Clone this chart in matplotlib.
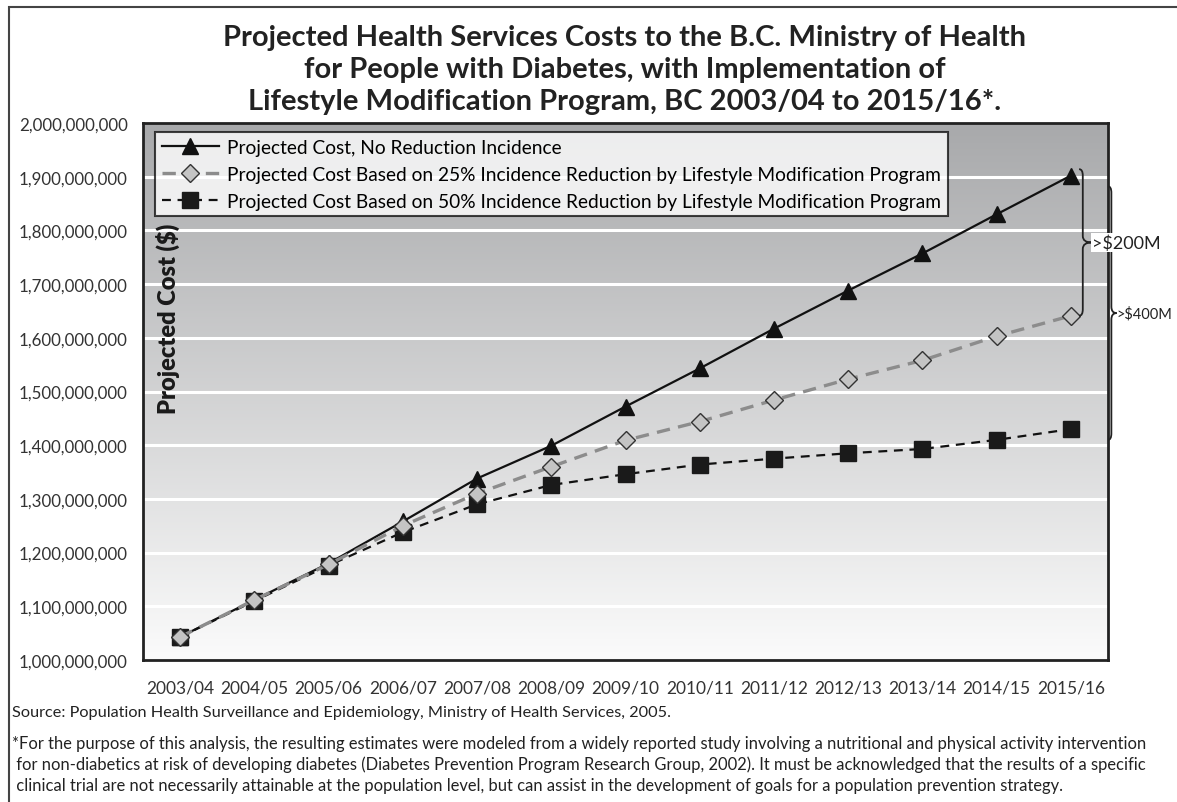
import numpy as np
import matplotlib
matplotlib.use("Agg")
import matplotlib.pyplot as plt
from matplotlib.path import Path
from matplotlib.patches import PathPatch, Rectangle

plt.rcParams['font.family'] = ['Lato', 'DejaVu Sans']

years = ["2003/04", "2004/05", "2005/06", "2006/07", "2007/08", "2008/09", "2009/10",
         "2010/11", "2011/12", "2012/13", "2013/14", "2014/15", "2015/16"]
# projected costs in dollars
no_reduction = [1043e6, 1112e6, 1180e6, 1258e6, 1338e6, 1399e6, 1472e6,
                1543e6, 1617e6, 1688e6, 1757e6, 1830e6, 1902e6]
reduction_25 = [1043e6, 1112e6, 1178e6, 1250e6, 1310e6, 1360e6, 1409e6,
                1444e6, 1484e6, 1523e6, 1558e6, 1603e6, 1641e6]
reduction_50 = [1043e6, 1110e6, 1176e6, 1238e6, 1290e6, 1326e6, 1346e6,
                1364e6, 1375e6, 1385e6, 1393e6, 1410e6, 1430e6]
labels = ["Projected Cost, No Reduction Incidence",
          "Projected Cost Based on 25% Incidence Reduction by Lifestyle Modification Program",
          "Projected Cost Based on 50% Incidence Reduction by Lifestyle Modification Program"]

fig = plt.figure(figsize=(11.77, 8.03), dpi=100)
ax = fig.add_axes([0.1215, 0.1768, 0.8199, 0.6688])
x = np.arange(len(years))

ax.set_xlim(-0.5, 12.5)
ax.set_ylim(1000e6, 2000e6)

# grey-to-white gradient behind the plot
grad = np.linspace(0, 1, 256).reshape(-1, 1)
cmap = matplotlib.colors.LinearSegmentedColormap.from_list("bg", ["#fbfbfb", "#a8a9ab"])
ax.imshow(grad, extent=[-0.5, 12.5, 1000e6, 2000e6], origin="lower", aspect="auto",
          cmap=cmap, zorder=0)
for v in np.arange(1100e6, 2000e6, 100e6):
    ax.axhline(v, color="white", lw=2.2, zorder=1)

ax.plot(x, no_reduction, color="#111111", lw=1.6, marker="^", ms=12,
        mfc="#111111", mec="#111111", zorder=3, label=labels[0])
ax.plot(x, reduction_25, color="#8c8c8c", lw=2.4, ls=(0, (4, 2.5)), marker="D", ms=9,
        mfc="#c4c4c4", mec="#333333", mew=1.0, zorder=5, label=labels[1])
ax.plot(x, reduction_50, color="#111111", lw=1.6, ls=(0, (4, 3)), marker="s", ms=11,
        mfc="#1a1a1a", mec="#1a1a1a", zorder=4, label=labels[2])

for s in ax.spines.values():
    s.set_linewidth(2)
    s.set_color("#222222")

ax.set_xticks(x)
ax.set_xticklabels(years, fontsize=12.5, color="#333333")
ax.set_yticks(np.arange(1000e6, 2000e6 + 1, 100e6))
ax.yaxis.set_major_formatter(matplotlib.ticker.FuncFormatter(lambda v, p: f"{v:,.0f}"))
ax.tick_params(axis="y", length=0, pad=11, labelsize=12.2, labelcolor="#333333")
ax.tick_params(axis="x", length=0, pad=14)

ax.text(0.026, 0.638, "Projected Cost ($)", transform=ax.transAxes, rotation=90,
        ha="center", va="center", fontsize=17, fontweight="heavy", color="#1a1a1a", zorder=6)

leg = ax.legend(loc="upper left", bbox_to_anchor=(0.0124, 0.983), borderaxespad=0,
                fontsize=13.8, frameon=True, fancybox=False, handlelength=3.0,
                labelspacing=0.52, borderpad=0.35, handletextpad=0.4)
leg.get_frame().set_edgecolor("#111111")
leg.get_frame().set_linewidth(1.5)
leg.set_zorder(7)


def brace(x0, ytop, ybot, w, tip, h):
    ym = (ytop + ybot) / 2
    verts = [(x0, ytop), (x0 + w, ytop), (x0 + w, ytop - h),
             (x0 + w, ym + h),
             (x0 + w, ym), (x0 + w + tip, ym),
             (x0 + w, ym), (x0 + w, ym - h),
             (x0 + w, ybot + h),
             (x0 + w, ybot), (x0, ybot)]
    codes = [Path.MOVETO, Path.CURVE3, Path.CURVE3, Path.LINETO,
             Path.CURVE3, Path.CURVE3, Path.CURVE3, Path.CURVE3,
             Path.LINETO, Path.CURVE3, Path.CURVE3]
    ax.add_patch(PathPatch(Path(verts, codes), fill=False, color="#222222", lw=1.3,
                           clip_on=False, zorder=6))
    return ym


gap200 = brace(12.11, no_reduction[-1] + 12e6, reduction_25[-1], 0.05, 0.12, 12e6)
ax.text(12.29, gap200, ">$200M", ha="left", va="center", fontsize=13, color="#222222",
        bbox=dict(facecolor="white", edgecolor="none", pad=1), zorder=8, clip_on=False)
gap400 = brace(12.5, no_reduction[-1] - 20e6, reduction_50[-1] - 20e6, 0.045, 0.07, 12e6)
ax.text(12.61, gap400, ">$400M", ha="left", va="center", fontsize=10.5, color="#222222",
        clip_on=False)

fig.text(0.531, 0.969, "Projected Health Services Costs to the B.C. Ministry of Health\n"
         "for People with Diabetes, with Implementation of\n"
         "Lifestyle Modification Program, BC 2003/04 to 2015/16*.",
         ha="center", va="top", fontsize=21, fontweight="bold", color="#222222",
         linespacing=1.3)

fig.text(0.0102, 1 - 713 / 803, "Source: Population Health Surveillance and Epidemiology, "
         "Ministry of Health Services, 2005.", ha="left", va="center", fontsize=11.7,
         color="#222222")
notes = ["*For the purpose of this analysis, the resulting estimates were modeled from a widely "
         "reported study involving a nutritional and physical activity intervention",
         " for non-diabetics at risk of developing diabetes (Diabetes Prevention Program Research "
         "Group, 2002). It must be acknowledged that the results of a specific",
         " clinical trial are not necessarily attainable at the population level, but can assist "
         "in the development of goals for a population prevention strategy."]
for i, line in enumerate(notes):
    fig.text(0.0102, 1 - (744 + 21 * i) / 803, line, ha="left", va="center", fontsize=11.9,
             color="#222222")

# outer frame around the whole figure
fig.patches.append(Rectangle((9 / 1177, -0.05), 1.1, 1 - 8 / 803 + 0.05,
                             transform=fig.transFigure, fill=False, ec="#444444", lw=1.5))

fig.savefig("out.png", dpi=100)
